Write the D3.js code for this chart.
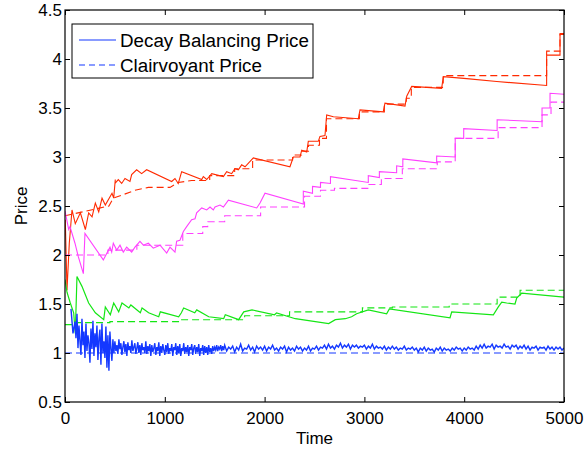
<!DOCTYPE html>
<html>
<head>
<meta charset="utf-8">
<script src="https://cdn.jsdelivr.net/npm/d3@7"></script>
<style>
  body { margin: 0; background: #fff; }
  text { font-family: "Liberation Sans", Arial, Helvetica, sans-serif; }
</style>
</head>
<body>
<svg id="mainsvg" width="585" height="451"></svg>
<script>
// ---- data ----
const xTicks = [0, 1000, 2000, 3000, 4000, 5000];
const yTicks = [0.5, 1, 1.5, 2, 2.5, 3, 3.5, 4, 4.5];
const legendLabels = ['Decay Balancing Price', 'Clairvoyant Price'];

// [time, price]
const redSolid = [[0,2.20],[3,2.36],[20,1.64],[43,2.12],[70,2.46],[103,2.32],[154,2.43],[204,2.26],[237,2.43],[271,2.39],[304,2.53],[338,2.44],[371,2.58],[404,2.51],[471,2.63],[488,2.58],[504,2.77],[501,2.73],[534,2.77],[568,2.73],[601,2.78],[651,2.75],[668,2.82],[718,2.87],[768,2.83],[818,2.87],[1069,2.75],[1102,2.78],[1135,2.73],[1169,2.85],[1370,2.77],[1386,2.80],[1420,2.77],[1470,2.83],[1587,2.80],[1620,2.85],[1670,2.83],[1703,2.88],[1737,2.87],[1770,2.92],[1804,2.90],[1887,2.99],[2254,2.90],[2288,3.00],[2355,3.00],[2372,3.07],[2422,3.05],[2438,3.16],[2538,3.16],[2555,3.21],[2605,3.22],[2622,3.43],[2689,3.41],[2939,3.39],[2956,3.48],[3189,3.46],[3206,3.55],[3407,3.52],[3424,3.62],[3474,3.72],[3774,3.70],[3791,3.82],[4025,3.80],[4326,3.77],[4826,3.73],[4826,4.04],[4960,4.04],[4960,4.26],[5000,4.26]];
const redDashed = [[0,2.40],[440,2.50],[484,2.58],[568,2.61],[701,2.66],[835,2.69],[1052,2.69],[1135,2.74],[1269,2.76],[1450,2.76],[1450,2.81],[1700,2.81],[1700,2.88],[1880,2.88],[1880,2.97],[2280,2.97],[2280,3.02],[2370,3.02],[2370,3.06],[2440,3.06],[2440,3.12],[2550,3.12],[2550,3.19],[2620,3.19],[2620,3.39],[2950,3.39],[2950,3.46],[3200,3.46],[3200,3.54],[3420,3.54],[3420,3.60],[3470,3.60],[3470,3.71],[3790,3.71],[3790,3.83],[4826,3.83],[4826,4.08],[4960,4.08],[4960,4.25],[5000,4.25]];

const magentaSolid = [[0,2.45],[37,2.26],[50,2.29],[100,2.12],[134,1.98],[184,1.81],[200,2.22],[384,1.95],[451,2.08],[468,2.03],[484,2.12],[518,2.05],[551,2.10],[584,2.03],[618,2.08],[668,2.03],[701,2.08],[751,2.14],[785,2.10],[835,2.12],[885,2.07],[952,2.10],[1019,2.02],[1052,2.08],[1102,2.03],[1119,2.14],[1152,2.15],[1186,2.24],[1219,2.29],[1269,2.36],[1303,2.37],[1319,2.43],[1370,2.48],[1420,2.46],[1453,2.49],[1486,2.46],[1503,2.49],[1553,2.51],[1587,2.49],[1637,2.56],[1921,2.48],[1954,2.53],[2004,2.63],[2388,2.52],[2388,2.65],[2480,2.63],[2480,2.70],[2560,2.69],[2560,2.74],[2660,2.73],[2660,2.80],[3039,2.74],[3039,2.81],[3150,2.79],[3150,2.85],[3323,2.84],[3323,2.91],[3385,2.90],[3385,2.98],[3724,2.94],[3724,3.01],[3910,3.00],[3910,3.19],[3995,3.19],[3995,3.29],[4330,3.27],[4330,3.38],[4780,3.36],[4780,3.50],[4860,3.50],[4860,3.65],[5000,3.64]];
const magentaDashed = [[0,2.00],[430,2.00],[430,2.05],[720,2.05],[720,2.10],[1180,2.10],[1180,2.22],[1380,2.22],[1380,2.29],[1430,2.29],[1430,2.34],[1600,2.34],[1600,2.40],[1960,2.40],[1960,2.49],[2400,2.49],[2400,2.60],[2560,2.60],[2560,2.66],[2700,2.66],[2700,2.68],[3040,2.68],[3040,2.72],[3170,2.72],[3170,2.78],[3380,2.78],[3380,2.88],[3730,2.88],[3730,2.95],[3910,2.95],[3910,3.19],[4340,3.19],[4340,3.30],[4780,3.30],[4780,3.43],[4870,3.43],[4870,3.56],[5000,3.56]];

const greenSolid = [[0,1.75],[20,1.62],[53,1.51],[87,1.41],[103,1.20],[120,1.78],[170,1.68],[237,1.51],[304,1.41],[388,1.34],[404,1.47],[454,1.39],[488,1.51],[538,1.42],[571,1.51],[640,1.46],[660,1.49],[755,1.41],[772,1.46],[838,1.41],[939,1.37],[955,1.42],[1139,1.37],[1166,1.41],[1189,1.46],[1300,1.41],[1320,1.44],[1440,1.37],[1590,1.35],[1606,1.39],[1740,1.34],[1791,1.42],[1874,1.44],[2100,1.39],[2120,1.41],[2308,1.35],[2642,1.30],[2709,1.34],[2809,1.35],[2872,1.37],[2922,1.40],[3039,1.44],[3223,1.40],[3250,1.45],[3858,1.36],[3875,1.42],[4292,1.39],[4342,1.47],[4376,1.52],[4426,1.51],[4509,1.50],[4526,1.56],[4576,1.61],[4893,1.58],[5000,1.57]];
const greenDashed = [[0,1.29],[120,1.29],[120,1.31],[450,1.31],[450,1.32],[1150,1.32],[1150,1.34],[1800,1.34],[1800,1.38],[2250,1.38],[2250,1.42],[2980,1.42],[2980,1.46],[3280,1.46],[3280,1.47],[3850,1.47],[3850,1.50],[4330,1.50],[4330,1.57],[4560,1.57],[4560,1.64],[5000,1.64]];

// blue decay balancing price: two head points, then samples every 10 (t=100..1590), then every 20 (t=1600..5000)
const blueHead = [[60,1.45],[80,1.20]];
const blueEarlyStart = 100, blueEarlyStep = 10;
const blueEarly = [
  1.32,1.15,1.40,1.05,1.28,1.12,0.98,1.35,1.08,1.22,0.95,1.30,1.02,1.18,1.10,0.90,1.25,1.04,1.33,0.97,
  1.20,1.06,1.28,0.93,1.15,1.24,0.88,1.30,1.00,1.12,0.95,1.27,0.85,1.18,0.82,1.22,1.05,0.92,1.14,1.00,
  1.12,1.02,1.08,0.99,1.14,1.04,1.10,0.98,1.06,1.12,1.01,1.09,0.97,1.11,1.03,1.07,1.00,1.13,1.02,1.06,
  1.10,0.99,1.05,1.11,1.00,1.08,0.98,1.10,1.03,1.06,1.00,1.12,0.99,1.07,1.02,1.09,0.97,1.08,1.01,1.05,
  1.10,0.98,1.06,1.02,1.11,0.97,1.07,1.00,1.09,1.03,0.98,1.08,1.01,1.10,0.99,1.05,1.02,1.09,0.97,1.06,
  1.03,1.10,0.98,1.07,1.00,1.09,0.97,1.05,1.02,1.10,0.99,1.06,1.01,1.08,0.97,1.06,1.03,1.09,0.98,1.05,
  1.08,0.99,1.06,1.01,1.09,0.97,1.05,1.02,1.08,0.98,1.07,1.00,1.06,0.98,1.08,1.01,1.05,0.99,1.07,1.02,
  1.06,1.03,1.08,1.02,1.06,1.04,1.08,1.02,1.07,1.03
];
const blueLateStart = 1600, blueLateStep = 20;
const blueLate = [
  1.08,1.02,1.06,1.04,1.07,1.01,1.06,1.03,1.09,1.02,1.05,1.04,1.08,1.03,1.06,1.01,1.07,1.04,1.06,1.03,
  1.07,1.02,1.06,1.04,1.08,1.03,1.05,1.02,1.06,1.04,1.07,1.01,1.06,1.03,1.05,1.02,1.07,1.04,1.06,1.02,1.05,1.03,1.07,1.02,1.05,
  1.04,1.07,1.03,1.06,1.05,1.08,1.04,1.09,1.05,1.07,1.04,1.08,1.06,1.10,1.05,1.08,1.06,1.09,1.04,1.08,1.06,1.08,1.05,1.07,1.06,
  1.08,1.04,1.07,1.05,1.09,1.04,1.07,1.05,1.06,1.04,1.07,1.03,1.06,1.04,1.07,1.04,1.06,1.03,1.05,1.04,1.07,1.03,1.05,1.04,1.06,
  1.03,1.05,1.01,1.05,1.03,1.06,1.02,1.05,1.03,1.04,1.01,1.05,1.03,1.06,1.02,1.05,1.03,1.04,1.02,1.05,1.03,1.06,1.04,1.05,1.02,
  1.05,1.03,1.06,1.04,1.05,1.03,1.07,1.04,1.08,1.05,1.09,1.05,1.07,1.06,1.09,1.04,1.08,1.06,1.07,1.05,1.09,1.06,1.07,1.04,1.08,
  1.06,1.08,1.04,1.07,1.05,1.08,1.04,1.07,1.03,1.06,1.05,1.07,1.03,1.06,1.05,1.06,1.03,1.07,1.04,1.06,1.03,1.06,1.04,1.06,1.03,
  1.05
];
const blueDashed = [[0,1.0],[5000,1.0]];

// ---- layout ----
const svg = d3.select('#mainsvg');
const margin = {top: 10, right: 21, bottom: 49, left: 65};
const width = +svg.attr('width');
const height = +svg.attr('height');
const innerWidth = width - margin.left - margin.right;
const innerHeight = height - margin.top - margin.bottom;

const colors = {red: '#ff2a00', magenta: '#ff40ff', green: '#14e614', blue: '#1438ff'};
const dash = '7,4';

const xScale = d3.scaleLinear().domain([0, 5000]).range([0, innerWidth]);
const yScale = d3.scaleLinear().domain([0.5, 4.5]).range([innerHeight, 0]);

const g = svg.append('g').attr('transform', `translate(${margin.left}, ${margin.top})`);

g.append('clipPath').attr('id', 'clip')
  .append('rect').attr('width', innerWidth).attr('height', innerHeight);

const line = d3.line()
  .x(d => xScale(d[0]))
  .y(d => yScale(d[1]));

const blueSolid = blueHead
  .concat(blueEarly.map((v, i) => [blueEarlyStart + i * blueEarlyStep, v]))
  .concat(blueLate.map((v, i) => [blueLateStart + i * blueLateStep, v]));

const series = [
  {data: redSolid, color: colors.red, dash: null, w: 1.1},
  {data: redDashed, color: colors.red, dash: dash, w: 1.1},
  {data: magentaSolid, color: colors.magenta, dash: null, w: 1.1},
  {data: magentaDashed, color: colors.magenta, dash: dash, w: 1.1},
  {data: greenSolid, color: colors.green, dash: null, w: 1.2},
  {data: greenDashed, color: colors.green, dash: dash, w: 1.1},
  {data: blueSolid, color: colors.blue, dash: null, w: 1.4},
  {data: blueDashed, color: colors.blue, dash: dash, w: 1.1}
];

const plot = g.append('g').attr('clip-path', 'url(#clip)');
plot.selectAll('path.series')
  .data(series)
  .join('path')
  .attr('class', 'series')
  .attr('d', d => line(d.data))
  .attr('fill', 'none')
  .attr('stroke', d => d.color)
  .attr('stroke-width', d => d.w)
  .attr('stroke-dasharray', d => d.dash);

// ---- axes (ticks inside, box around) ----
const fs = '17px';
const xAxis = g.append('g')
  .attr('transform', `translate(0, ${innerHeight})`)
  .call(d3.axisBottom(xScale).tickValues(xTicks).tickSize(-5).tickPadding(10).tickFormat(d3.format('d')));
const xTop = g.append('g')
  .call(d3.axisTop(xScale).tickValues(xTicks).tickSize(-5));
const yAxis = g.append('g')
  .call(d3.axisLeft(yScale).tickValues(yTicks).tickSize(-5).tickPadding(3).tickFormat(d3.format('')));
const yRight = g.append('g')
  .attr('transform', `translate(${innerWidth}, 0)`)
  .call(d3.axisRight(yScale).tickValues(yTicks).tickSize(-5));

// mirrored axes carry ticks only
xTop.selectAll('text').remove();
yRight.selectAll('text').remove();

[xAxis, xTop, yAxis, yRight].forEach(a => {
  a.select('.domain').remove();
  a.selectAll('line').attr('stroke', '#000');
  a.selectAll('text').attr('fill', '#000').style('font-size', fs);
});

g.append('rect')
  .attr('width', innerWidth)
  .attr('height', innerHeight)
  .attr('fill', 'none')
  .attr('stroke', '#000')
  .attr('stroke-width', 1.2);

// axis titles
svg.append('text')
  .attr('x', margin.left + innerWidth / 2)
  .attr('y', 444)
  .attr('text-anchor', 'middle')
  .style('font-size', fs)
  .text('Time');

svg.append('text')
  .attr('transform', `translate(27, ${margin.top + innerHeight / 2}) rotate(-90)`)
  .attr('text-anchor', 'middle')
  .style('font-size', fs)
  .text('Price');

// ---- legend ----
const legend = g.append('g').attr('transform', 'translate(7, 14)');
legend.append('rect')
  .attr('width', 241)
  .attr('height', 54)
  .attr('fill', '#fff')
  .attr('stroke', '#000')
  .attr('stroke-width', 1);

const items = legend.selectAll('.legend-item')
  .data(legendLabels)
  .join('g')
  .attr('class', 'legend-item')
  .attr('transform', (d, i) => `translate(0, ${16 + i * 25})`);

items.append('line')
  .attr('x1', 7).attr('x2', 44)
  .attr('y1', 0).attr('y2', 0)
  .attr('stroke', colors.blue)
  .attr('stroke-width', 1.1)
  .attr('stroke-dasharray', (d, i) => i === 1 ? '6,4' : null);

items.append('text')
  .attr('x', 48)
  .attr('y', 6.5)
  .style('font-size', '18.8px')
  .text(d => d);
</script>
</body>
</html>
